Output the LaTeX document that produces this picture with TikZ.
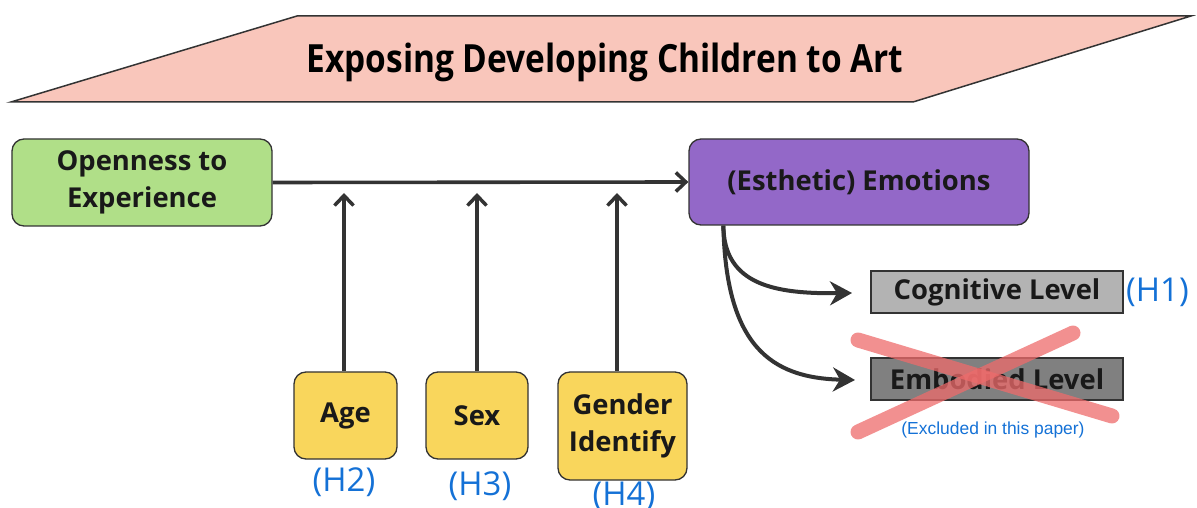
\documentclass[tikz,border=0pt]{standalone}
\usepackage{fontspec}
\setmainfont{Open Sans}
\newfontfamily\titlefont{Open Sans}[FakeStretch=0.86]
\newfontfamily\hfont{Open Sans}
\newfontfamily\smallfont{Liberation Sans}
\usetikzlibrary{arrows.meta,calc}
\definecolor{pinkfill}{HTML}{F9C6BB}
\definecolor{greenfill}{HTML}{B0DF88}
\definecolor{purplefill}{HTML}{9368C8}
\definecolor{yellowfill}{HTML}{F9D65C}
\definecolor{lightgrey}{HTML}{B3B3B3}
\definecolor{darkgrey}{HTML}{808080}
\definecolor{hblue}{HTML}{1471D6}
\definecolor{arrowcol}{HTML}{333333}
\definecolor{crossred}{HTML}{EE6B6B}
\tikzset{
  box/.style={draw=arrowcol, line width=1.3bp, rounded corners=12bp, align=center,
    font=\fontsize{27.5}{37}\selectfont\bfseries, text=black!90, inner sep=0pt},
  levelbox/.style={draw=arrowcol, line width=1.3bp, minimum width=252bp, minimum height=42bp,
    font=\fontsize{27.5}{30}\selectfont\bfseries, text=black!90, inner sep=0pt},
  hlabel/.style={text=hblue, font=\hfont\fontsize{33}{36}\selectfont, inner sep=0pt},
  barb/.style={-{Straight Barb[length=10bp,width=19bp,line width=3.5bp]}, line width=3.6bp, draw=arrowcol},
  curvearrow/.style={-{Stealth[length=22bp,width=24bp,inset=7bp]}, line width=4bp, draw=arrowcol},
  cross/.style={line width=15bp, draw=crossred, opacity=0.75, line cap=round}
}
\begin{document}
\begin{tikzpicture}[x=1bp,y=-1bp]
\useasboundingbox (0,0) rectangle (1197,508);
% title banner
\draw[fill=pinkfill, draw=arrowcol, line width=1.5bp] (297,16) -- (1191,16) -- (913,102) -- (11,102) -- cycle;
\node (title) at (605,62) {\titlefont\fontsize{39}{42}\selectfont\bfseries Exposing Developing Children to Art};
% main nodes
\node[box, fill=greenfill, minimum width=260bp, minimum height=87bp] (open) at (142,182.5) {Openness to\\Experience};
\node[box, fill=purplefill, minimum width=340bp, minimum height=86bp] (emo) at (859,182) {(Esthetic) Emotions};
\node[box, fill=yellowfill, minimum width=103bp, minimum height=87bp] (age) at (345.5,415.5) {Age};
\node[box, fill=yellowfill, minimum width=102bp, minimum height=87bp] (sex) at (477,415.5) {Sex};
\node[box, fill=yellowfill, minimum width=129bp, minimum height=108bp] (gender) at (622.5,426) {Gender\\Identify};
\node[levelbox, fill=lightgrey] (cog) at (997,292) {Cognitive Level};
\node[levelbox, fill=darkgrey] (emb) at (997,379) {Embodied Level};
% labels
\node[hlabel, anchor=west] (h1) at (1126,292) {(H1)};
\node[hlabel] (h2) at (344,482) {(H2)};
\node[hlabel] (h3) at (480,486) {(H3)};
\node[hlabel] (h4) at (624,496) {(H4)};
\node[text=hblue, font=\smallfont\fontsize{17.5}{19}\selectfont, inner sep=0pt] (excl) at (993,430) {(Excluded in this paper)};
% connectors
\coordinate (tipA) at (344,193);
\coordinate (tipS) at (477,193);
\coordinate (tipG) at (617,193);
\draw[barb] (open.east) -- (emo.west);
\draw[barb] (age.north -| tipA) -- (tipA);
\draw[barb] (sex.north -| tipS) -- (tipS);
\draw[barb] (gender.north -| tipG) -- (tipG);
\coordinate (src) at ($(emo.south west)+(35,0)$);
\coordinate (cogtip) at (852,293);
\coordinate (embtip) at (855,380);
\draw[curvearrow] (src) .. controls (724,285) and (775,294) .. (cogtip);
\draw[curvearrow] (src) .. controls (726,345) and (770,378) .. (embtip);
% cross-out
\coordinate (x1a) at (858,340);
\coordinate (x1b) at (1112,416);
\coordinate (x2a) at (858,432);
\coordinate (x2b) at (1073,333);
\draw[cross] (x1a) -- (x1b);
\draw[cross] (x2a) -- (x2b);
\end{tikzpicture}
\end{document}
